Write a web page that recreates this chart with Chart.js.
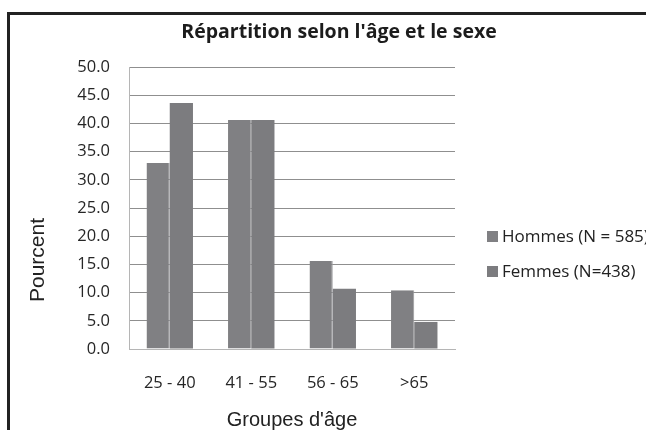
<!DOCTYPE html>
<html>
<head>
<meta charset="utf-8">
<script src="https://cdn.jsdelivr.net/npm/chart.js@4"></script>
<style>
    html, body { margin: 0; padding: 0; background: #fff; overflow: hidden; }
    #wrap { position: relative; width: 646px; height: 430px; }
    #ageChart { position: absolute; left: 0; top: 0; }
    #frame { position: absolute; left: 7px; top: 12px; width: 700px; height: 500px;
        border: 3px solid #222; box-sizing: border-box; pointer-events: none; }
    #title { position: absolute; left: 339px; top: 21px; transform: translateX(-50%);
        font-family: "Open Sans", sans-serif; font-weight: bold; font-size: 19.5px;
        line-height: 19.5px; color: #1c1c1c; white-space: nowrap; }
    #ytitle { position: absolute; left: 37px; top: 260px; transform: translate(-50%, -50%) rotate(-90deg);
        font-family: "Liberation Sans", sans-serif; font-size: 21px; color: #222; white-space: nowrap; }
    #legend { position: absolute; left: 487px; top: 227px; font-family: "Open Sans", sans-serif;
        font-size: 17px; color: #222; white-space: nowrap; }
    #legend div { height: 35px; line-height: 17px; }
    #legend span.box { display: inline-block; width: 11px; height: 11px; margin-right: 4px; vertical-align: 0px; }
</style>
</head>
<body>
<div id="wrap">
    <canvas id="ageChart" width="646" height="430"></canvas>
    <div id="frame"></div>
    <div id="title">Répartition selon l'âge et le sexe</div>
    <div id="ytitle">Pourcent</div>
    <div id="legend"></div>
</div>
<script>
    const categories = ['25 - 40', '41 - 55', '56 - 65', '>65'];
    const hommes = [33.0, 40.6, 15.6, 10.4];
    const femmes = [43.6, 40.6, 10.7, 4.8];
    const seriesNames = ['Hommes (N = 585)', 'Femmes (N=438)'];

    const ctx = document.getElementById('ageChart').getContext('2d');
    const chart = new Chart(ctx, {
        type: 'bar',
        data: {
            labels: categories,
            datasets: [
                {
                    label: seriesNames[0],
                    data: hommes,
                    backgroundColor: '#808083',
                    borderColor: '#9a9a9d',
                    borderWidth: { right: 1 }
                },
                {
                    label: seriesNames[1],
                    data: femmes,
                    backgroundColor: '#7c7c7f',
                    borderWidth: 0
                }
            ]
        },
        options: {
            responsive: false,
            animation: false,
            layout: { padding: { left: 8, right: 191, top: 67, bottom: 0 } },
            datasets: { bar: { categoryPercentage: 0.57, barPercentage: 1.0 } },
            plugins: {
                legend: { display: false },
                tooltip: { enabled: false },
                title: { display: false }
            },
            scales: {
                x: {
                    grid: { display: false, drawTicks: false },
                    border: { color: '#b5b5b5' },
                    ticks: {
                        color: '#262626',
                        font: { family: 'Open Sans', size: 16.5 },
                        padding: 24
                    },
                    title: {
                        display: true,
                        text: "Groupes d'âge",
                        color: '#222',
                        font: { family: 'Liberation Sans', size: 20 },
                        padding: { top: 4, bottom: -2 }
                    },
                    afterFit: s => { s.height = 81; }
                },
                y: {
                    min: 0,
                    max: 50,
                    ticks: {
                        stepSize: 5,
                        color: '#262626',
                        font: { family: 'Open Sans', size: 16.5 },
                        padding: 19,
                        callback: v => v.toFixed(1)
                    },
                    grid: { color: '#8f8f8f', drawTicks: false },
                    border: { color: '#b5b5b5' },
                    afterFit: s => { s.width = 121; }
                }
            }
        }
    });

    // legend as html, built from the datasets
    const legend = document.getElementById('legend');
    chart.data.datasets.forEach(ds => {
        const row = document.createElement('div');
        const box = document.createElement('span');
        box.className = 'box';
        box.style.background = ds.backgroundColor;
        row.appendChild(box);
        row.appendChild(document.createTextNode(ds.label));
        legend.appendChild(row);
    });
</script>
</body>
</html>
